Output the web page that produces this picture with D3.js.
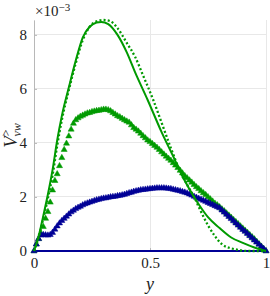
<!DOCTYPE html>
<html><head><meta charset="utf-8">
<script src="https://cdn.jsdelivr.net/npm/d3@7"></script>
<style>html,body{margin:0;padding:0;background:#fff;}svg{display:block;}
svg text{font-family:"Liberation Serif","DejaVu Serif",serif;}</style>
</head><body>
<script>
// ---- data (values ×10^-3) ----
const xTicks = [0, 0.5, 1];
const xTickLabels = ["0", "0.5", "1"];
const yTicks = [0, 2, 4, 6, 8];
const yTickLabels = ["0", "2", "4", "6", "8"];

// green solid line
const solidY = [0,0.02,0.04,0.06,0.08,0.1,0.12,0.15,0.18,0.21,0.24,0.27,0.29,0.32,0.36,0.4,0.435,0.49,0.55,0.6,0.65,0.69,0.72,0.75,0.8,0.85,0.9,0.95,1];
const solidV = [0,0.55,1.3,2.1,3.0,4.1,5.0,6.05,7.05,7.9,8.3,8.46,8.48,8.4,8.0,7.35,6.63,5.59,4.4,3.5,2.6,2.0,1.6,1.25,0.85,0.5,0.3,0.13,0];

// green dotted line
const dotY = [0,0.02,0.04,0.06,0.08,0.1,0.12,0.15,0.18,0.21,0.24,0.27,0.3,0.33,0.36,0.4,0.435,0.47,0.514,0.55,0.59,0.63,0.66,0.69,0.72,0.75,0.78,0.81,0.85,0.88,0.92,1];
const dotV = [0,0.5,1.2,1.95,2.8,3.9,4.85,5.95,6.95,7.8,8.3,8.5,8.55,8.5,8.25,7.7,7.2,6.5,5.59,4.75,3.81,2.95,2.45,2.0,1.45,0.95,0.55,0.25,0.1,0.04,0,0];

// marker series, sampled every 0.01 in y
const markY = d3.range(0, 101).map(i => i / 100);
const greenTriV = [0,0.25,0.45,0.65,0.9,1.2,1.45,1.8,2.25,2.6,2.85,3.15,3.45,3.75,3.98,4.25,4.5,4.72,4.85,4.92,4.98,5.02,5.06,5.1,5.12,5.15,5.17,5.19,5.2,5.22,5.24,5.24,5.22,5.18,5.12,5.06,5.0,4.96,4.9,4.85,4.8,4.76,4.66,4.56,4.5,4.43,4.35,4.26,4.18,4.1,4.04,3.97,3.9,3.83,3.75,3.66,3.58,3.5,3.42,3.35,3.26,3.17,3.08,2.98,2.88,2.78,2.7,2.62,2.54,2.45,2.37,2.3,2.22,2.15,2.08,2.0,1.92,1.84,1.76,1.7,1.63,1.55,1.48,1.4,1.32,1.24,1.16,1.08,1.0,0.92,0.84,0.76,0.68,0.6,0.52,0.44,0.35,0.26,0.17,0.08,0];
const blueTriV = [0,0.25,0.45,0.58,0.6,0.59,0.58,0.6,0.68,0.8,0.92,1.03,1.12,1.2,1.28,1.36,1.44,1.5,1.56,1.61,1.65,1.7,1.74,1.77,1.8,1.83,1.86,1.89,1.91,1.93,1.95,1.96,1.98,2.0,2.01,2.02,2.04,2.05,2.07,2.09,2.12,2.15,2.17,2.2,2.22,2.24,2.26,2.27,2.28,2.29,2.3,2.31,2.32,2.33,2.33,2.33,2.33,2.32,2.31,2.3,2.28,2.26,2.24,2.22,2.19,2.17,2.14,2.1,2.06,2.02,1.98,1.94,1.91,1.87,1.83,1.79,1.75,1.71,1.67,1.63,1.59,1.51,1.43,1.35,1.27,1.19,1.11,1.03,0.95,0.87,0.79,0.72,0.64,0.56,0.48,0.4,0.32,0.24,0.16,0.08,0];

// blue solid line (zero)
const blueLineY = [0, 1];
const blueLineV = [0, 0];

// ---- drawing ----
const W = 270, H = 296;
const GREEN = "#009a00", BLUE = "#000096";
const svg = d3.select("body").append("svg").attr("width", W).attr("height", H);
const x = d3.scaleLinear().domain([0, 1]).range([34, 266]);
const y = d3.scaleLinear().domain([0, 8.55]).range([251, 20]);
const SERIF = '"Liberation Serif","DejaVu Serif",serif';

// grid
svg.append("g").selectAll("line").data(xTicks).join("line")
  .attr("x1", d => x(d)).attr("x2", d => x(d)).attr("y1", y.range()[1]).attr("y2", y.range()[0])
  .attr("stroke", "#e8e8e8").attr("stroke-width", 1).attr("shape-rendering", "crispEdges");
svg.append("g").selectAll("line").data(yTicks).join("line")
  .attr("x1", x.range()[0]).attr("x2", x.range()[1]).attr("y1", d => y(d)).attr("y2", d => y(d))
  .attr("stroke", "#e8e8e8").attr("stroke-width", 1).attr("shape-rendering", "crispEdges");

// left axis
const yAxis = d3.axisLeft(y).tickValues(yTicks).tickFormat((d, i) => yTickLabels[i]).tickSizeInner(-3).tickSizeOuter(0).tickPadding(7);
const gy = svg.append("g").attr("transform", `translate(${x(0)},0)`).call(yAxis);
gy.attr("font-family", null).attr("font-size", null);
gy.select(".domain").attr("stroke", "#b8b8b8");
gy.selectAll(".tick line").attr("stroke", "#b8b8b8");
gy.selectAll("text").style("font-family", SERIF).style("font-size", "15px").attr("fill", "#222");

// bottom axis
const xAxis = d3.axisBottom(x).tickValues(xTicks).tickFormat((d, i) => xTickLabels[i]).tickSizeInner(-3).tickSizeOuter(0).tickPadding(6);
const gx = svg.append("g").attr("transform", `translate(0,${y(0)})`).call(xAxis);
gx.attr("font-family", null).attr("font-size", null);
gx.select(".domain").attr("stroke", "#b8b8b8");
gx.selectAll(".tick line").attr("stroke", "#b8b8b8");
gx.selectAll("text").style("font-family", SERIF).style("font-size", "15px").attr("fill", "#222");

// exponent
const ex = svg.append("text").attr("x", 35).attr("y", 16).style("font-family", SERIF).style("font-size", "15px").attr("fill", "#222");
ex.append("tspan").text("×10");
ex.append("tspan").attr("dy", -5).style("font-size", "11px").text("−3");

// axis labels
svg.append("text").attr("x", x(0.5)).attr("y", 290).attr("text-anchor", "middle")
  .style("font-family", SERIF).style("font-style", "italic").style("font-size", "18px").attr("fill", "#222").text("y");
const yl = svg.append("text").attr("transform", `translate(17,${(y.range()[0] + y.range()[1]) / 2}) rotate(-90)`)
  .attr("text-anchor", "middle").style("font-family", SERIF).style("font-style", "italic").style("font-size", "19px").attr("fill", "#222");
yl.append("tspan").text("V");
yl.append("tspan").attr("dy", -7).style("font-size", "12px").style("font-style", "normal").text(">");
yl.append("tspan").attr("dx", -7).attr("dy", 11).style("font-size", "12px").text("vw");

const line = d3.line().x(d => x(d[0])).y(d => y(d[1])).curve(d3.curveMonotoneX);
const zip = (a, b) => a.map((v, i) => [v, b[i]]);

// blue zero line
svg.append("path").datum(zip(blueLineY, blueLineV)).attr("d", line)
  .attr("fill", "none").attr("stroke", BLUE).attr("stroke-width", 2.2);

// markers
const tri = d3.symbol().type(d3.symbolTriangle).size(16);
svg.append("g").selectAll("path").data(zip(markY, greenTriV)).join("path")
  .attr("d", tri).attr("transform", d => `translate(${x(d[0])},${y(d[1])})`)
  .attr("fill", GREEN).attr("stroke", GREEN).attr("stroke-width", 0.5);
svg.append("g").selectAll("path").data(zip(markY, blueTriV)).join("path")
  .attr("d", tri).attr("transform", d => `translate(${x(d[0])},${y(d[1])})`)
  .attr("fill", BLUE).attr("stroke", BLUE).attr("stroke-width", 0.5);

// green lines
svg.append("path").datum(zip(solidY, solidV)).attr("d", line)
  .attr("fill", "none").attr("stroke", GREEN).attr("stroke-width", 2);
svg.append("path").datum(zip(dotY, dotV)).attr("d", line)
  .attr("fill", "none").attr("stroke", GREEN).attr("stroke-width", 2.3).attr("stroke-dasharray", "2,2.2");
</script>
</body></html>
